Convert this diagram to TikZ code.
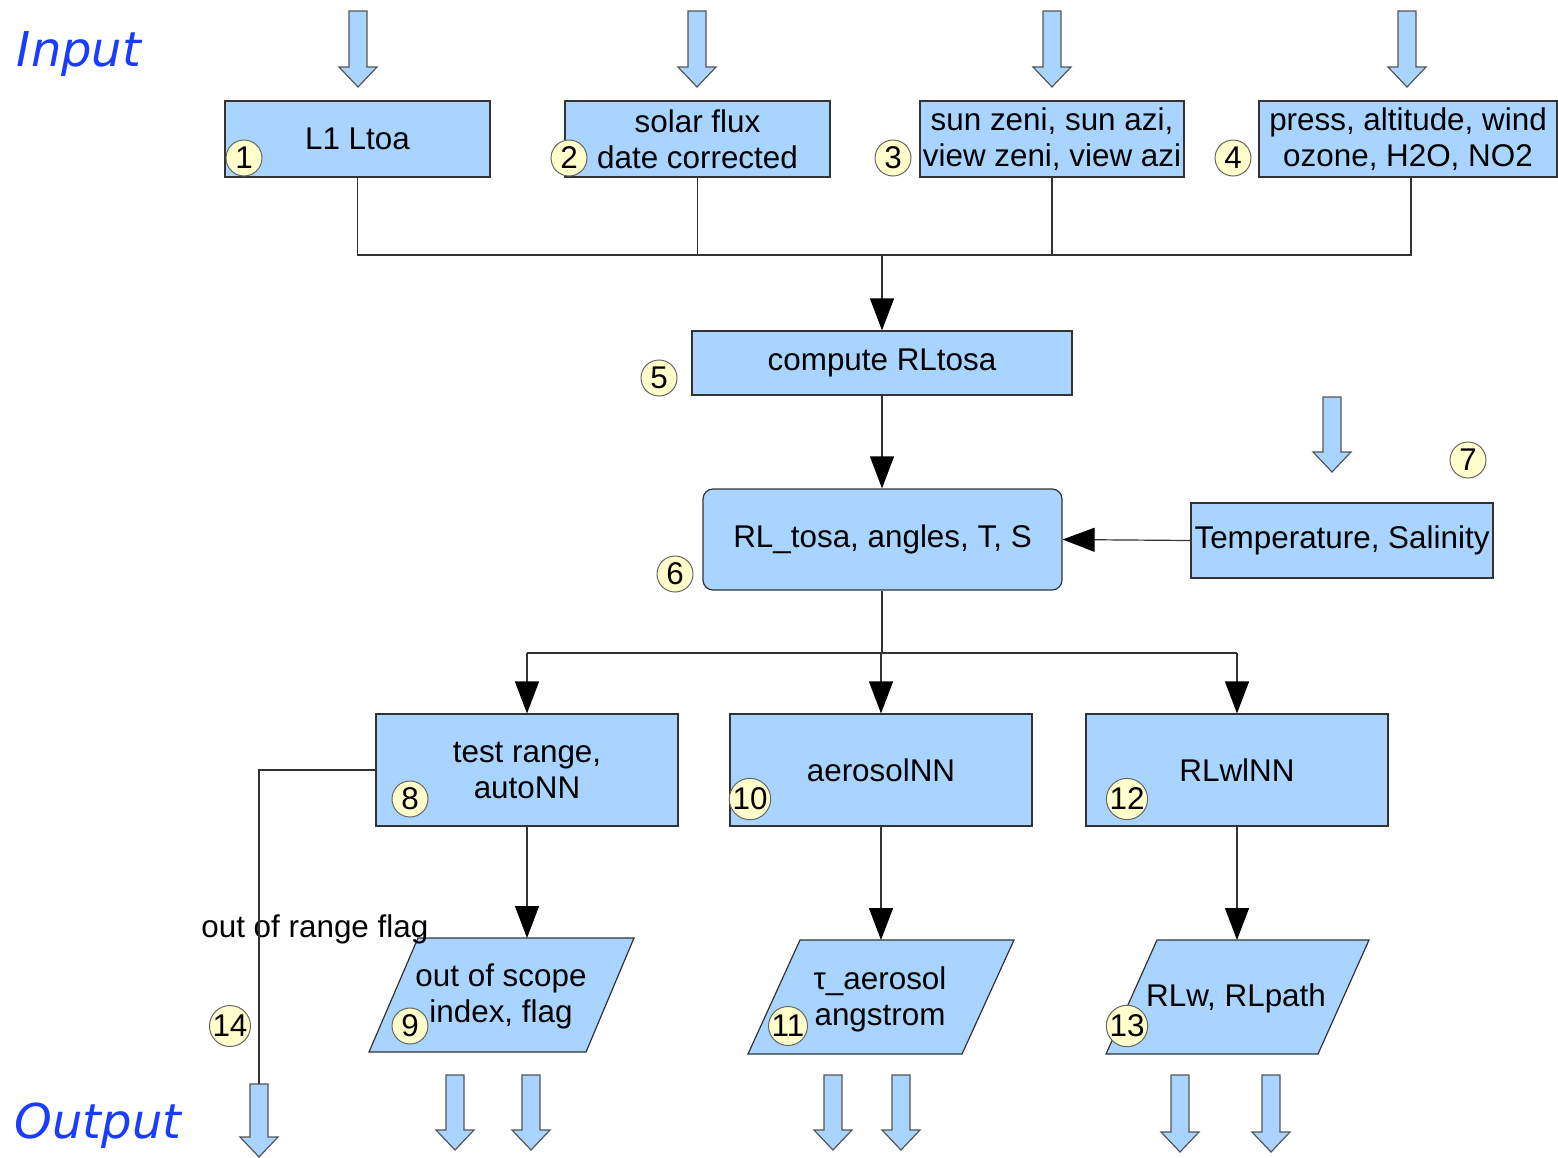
\documentclass[tikz,border=0pt]{standalone}
\usepackage{fontspec}
\setmainfont{Liberation Sans}
\newfontfamily\handfont{DejaVu Sans}
\usetikzlibrary{arrows.meta}
\definecolor{boxfill}{HTML}{A8D4FF}
\definecolor{boxline}{HTML}{333333}
\definecolor{fatline}{HTML}{555555}
\definecolor{numfill}{HTML}{FFFFCC}
\definecolor{numline}{HTML}{666666}
\definecolor{labelblue}{HTML}{1A3CFF}
\newcommand\mainsize{\fontsize{15.7pt}{18pt}\selectfont}
\newcommand\fatarrow[3]{%
  \filldraw[fatarrowstyle] ({#1-9},{#2}) -- ({#1+9},{#2}) -- ({#1+9},{#3-20}) -- ({#1+19},{#3-20}) -- ({#1},{#3}) -- ({#1-19},{#3-20}) -- ({#1-9},{#3-20}) -- cycle;}
\tikzset{
  boxstyle/.style={draw=boxline, fill=boxfill, line width=0.6pt, inner sep=0pt, align=center, font=\mainsize},
  parastyle/.style={draw=boxline, fill=boxfill, line width=0.6pt},
  fatarrowstyle/.style={draw=fatline, fill=boxfill, line width=0.6pt},
  num/.style={circle, draw=numline, fill=numfill, line width=0.5pt, inner sep=0pt, minimum size=18pt, font=\mainsize},
  conn/.style={draw=boxline, line width=0.6pt},
  arr/.style={conn, -{Triangle[width=12pt,length=16pt,color=black]}},
  plain/.style={inner sep=0pt, align=center, font=\mainsize},
  biglabel/.style={inner sep=0pt, text=labelblue, font=\handfont\itshape\fontsize{24pt}{28pt}\selectfont}
}
\begin{document}
\begin{tikzpicture}[x=0.5pt,y=-0.5pt]
\useasboundingbox (0,0) rectangle (1558,1157);

% labels
\node[biglabel] (inlab) at (79,54) {Input};
\node[biglabel] (outlab) at (98,1126) {Output};

% input fat arrows
\fatarrow{358}{11}{87}
\fatarrow{697}{11}{87}
\fatarrow{1052}{11}{87}
\fatarrow{1407}{11}{87}
\fatarrow{1332}{397}{472}

% top boxes
\node[boxstyle, minimum width=132.5pt, minimum height=38pt] (b1) at (357.5,139) {L1 Ltoa};
\node[boxstyle, minimum width=132.5pt, minimum height=38pt] (b2) at (697.5,139) {solar flux\\date corrected};
\node[boxstyle, minimum width=132pt, minimum height=38pt] (b3) at (1052,139) {sun zeni, sun azi,\\view zeni, view azi};
\node[boxstyle, minimum width=149pt, minimum height=38pt] (b4) at (1408,139) {press, altitude, wind\\ozone, H2O, NO2};

\node[boxstyle, minimum width=190pt, minimum height=32pt] (b5) at (882,363) {compute RLtosa};
\node[boxstyle, rounded corners=5pt, minimum width=179.5pt, minimum height=50.5pt] (b6) at (882.5,539.5) {RL\_tosa, angles, T, S};
\node[boxstyle, minimum width=151pt, minimum height=37.5pt] (b7) at (1342,540.5) {Temperature, Salinity};

\node[boxstyle, minimum width=151pt, minimum height=56pt] (b8) at (527,770) {test range,\\autoNN};
\node[boxstyle, minimum width=151pt, minimum height=56pt] (b10) at (881,770) {aerosolNN};
\node[boxstyle, minimum width=151pt, minimum height=56pt] (b12) at (1237,770) {RLwlNN};

% parallelograms
\filldraw[parastyle] (418,938) -- (634,938) -- (586,1052) -- (369,1052) -- cycle;
\filldraw[parastyle] (800,940) -- (1014,940) -- (962,1054) -- (748,1054) -- cycle;
\filldraw[parastyle] (1157,940) -- (1369,940) -- (1318,1054) -- (1106,1054) -- cycle;
\coordinate (p9top) at (527,938);
\coordinate (p11top) at (881,940);
\coordinate (p13top) at (1237,940);
\node[plain] (p9) at (501,996) {out of scope\\index, flag};
\node[plain] (p11) at (880,999) {τ\_aerosol\\angstrom};
\node[plain] (p13) at (1236,998) {RLw, RLpath};

% output fat arrows
\fatarrow{259}{1084}{1157}
\coordinate (oa) at (259,1084);
\fatarrow{455}{1075}{1150}
\fatarrow{531}{1075}{1150}
\fatarrow{833}{1075}{1150}
\fatarrow{901}{1075}{1150}
\fatarrow{1180}{1075}{1152}
\fatarrow{1271}{1075}{1152}

% connectors
\coordinate (bus) at (882,255);
\coordinate (b4drop) at (1411,177);
\draw[conn] (b1.south) -- (b1.south |- bus) -- (b4drop |- bus) -- (b4drop);
\draw[conn] (b2.south) -- (b2.south |- bus);
\draw[conn] (b3.south) -- (b3.south |- bus);
\draw[arr] (bus) -- (b5.north);
\draw[arr] (b5.south) -- (b5.south |- b6.north);
\draw[arr] (b7.west) -- (b6.east);
\coordinate (bus2) at (882,653);
\draw[conn] (b5.south |- b6.south) -- (bus2);
\draw[conn] (b8.north |- bus2) -- (b12.north |- bus2);
\draw[arr] (b8.north |- bus2) -- (b8.north);
\draw[arr] (b10.north |- bus2) -- (b10.north);
\draw[arr] (b12.north |- bus2) -- (b12.north);
\draw[arr] (b8.south) -- (p9top);
\draw[arr] (b10.south) -- (p11top);
\draw[arr] (b12.south) -- (p13top);

\node[plain, anchor=west] (flag) at (201,929) {out of range flag};
\draw[conn] (b8.west) -| (oa);

% number circles
\node[num] (c1) at (244,158) {1};
\node[num] (c2) at (569,158) {2};
\node[num] (c3) at (893,158) {3};
\node[num] (c4) at (1233,158) {4};
\node[num] (c5) at (659,378) {5};
\node[num] (c6) at (675,574) {6};
\node[num] (c7) at (1468,460) {7};
\node[num] (c8) at (410,799) {8};
\node[num] (c10) at (750,799) {10};
\node[num] (c12) at (1127,799) {12};
\node[num] (c9) at (410,1026) {9};
\node[num] (c11) at (788,1026) {11};
\node[num] (c13) at (1127,1026) {13};
\node[num] (c14) at (230,1026) {14};
\end{tikzpicture}
\end{document}
